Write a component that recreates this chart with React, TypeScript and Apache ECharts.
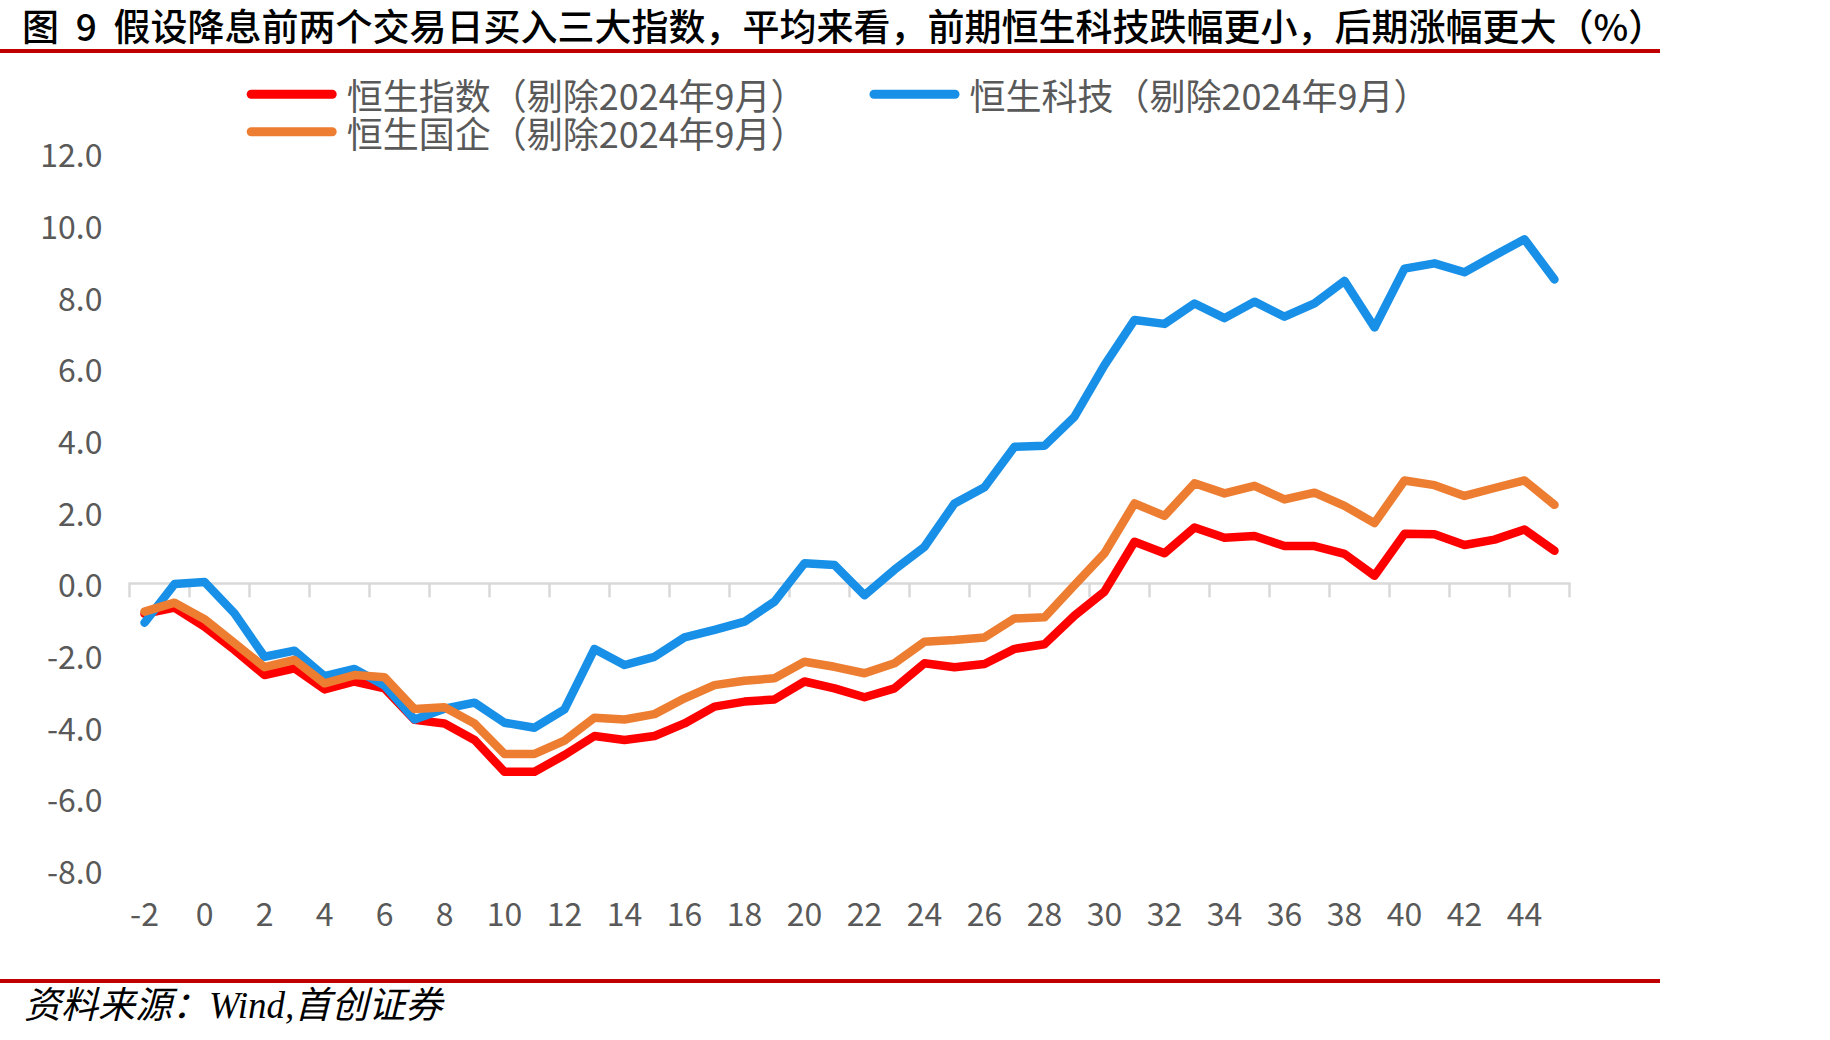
import React, { useEffect, useRef } from "react";
import * as echarts from "echarts";

// Trading days relative to the rate cut (day 0)
const days = [
  -2, -1, 0, 1, 2, 3, 4, 5, 6, 7, 8, 9, 10, 11, 12, 13, 14, 15, 16, 17, 18, 19, 20, 21,
  22, 23, 24, 25, 26, 27, 28, 29, 30, 31, 32, 33, 34, 35, 36, 37, 38, 39, 40, 41, 42, 43, 44, 45,
];

// Average cumulative return (%), Sep 2024 excluded
const hsi = [
  -0.85, -0.68, -1.21, -1.86, -2.56, -2.37, -2.96, -2.74, -2.93, -3.81, -3.91, -4.37,
  -5.26, -5.26, -4.79, -4.26, -4.37, -4.26, -3.91, -3.44, -3.30, -3.24, -2.74, -2.93,
  -3.18, -2.93, -2.23, -2.34, -2.25, -1.83, -1.70, -0.90, -0.23, 1.16, 0.84, 1.56,
  1.27, 1.32, 1.04, 1.04, 0.82, 0.21, 1.38, 1.37, 1.07, 1.22, 1.50, 0.91,
];
const hstech = [
  -1.10, -0.02, 0.04, -0.84, -2.05, -1.88, -2.59, -2.39, -2.85, -3.80, -3.50, -3.33,
  -3.89, -4.03, -3.52, -1.83, -2.28, -2.05, -1.51, -1.30, -1.07, -0.51, 0.56, 0.51,
  -0.33, 0.38, 1.02, 2.23, 2.68, 3.81, 3.84, 4.65, 6.09, 7.35, 7.24, 7.81,
  7.40, 7.86, 7.44, 7.81, 8.44, 7.14, 8.78, 8.93, 8.68, 9.15, 9.60, 8.48,
];
const hscei = [
  -0.79, -0.54, -1.00, -1.67, -2.34, -2.14, -2.79, -2.56, -2.62, -3.51, -3.46, -3.91,
  -4.76, -4.76, -4.39, -3.75, -3.80, -3.65, -3.21, -2.84, -2.72, -2.65, -2.19, -2.33,
  -2.51, -2.23, -1.63, -1.58, -1.51, -0.98, -0.95, -0.05, 0.84, 2.23, 1.88, 2.79,
  2.51, 2.72, 2.34, 2.53, 2.16, 1.68, 2.87, 2.74, 2.44, 2.66, 2.87, 2.19,
];

const yTicks = { min: -8, max: 12, step: 2 };

const names = [
  "恒生指数（剔除2024年9月）",
  "恒生科技（剔除2024年9月）",
  "恒生国企（剔除2024年9月）",
];
const colors = ["#FF0000", "#1890E8", "#ED7D31"];

// non-breaking spaces keep the gaps around the figure number in SVG text
const titleText =
  "图\u00A0\u00A09\u00A0\u00A0假设降息前两个交易日买入三大指数，平均来看，前期恒生科技跌幅更小，后期涨幅更大（%）";
const sourceText = "资料来源：Wind,首创证券";

const FONT = "'Noto Sans CJK SC', 'Noto Sans', sans-serif";
const capsule = "path://M4.5,0 H85.5 A4.5,4.5 0 0 1 85.5,9 H4.5 A4.5,4.5 0 0 1 4.5,0 Z";

function legendAt(name: string, left: number, top: number) {
  return {
    data: [name],
    left,
    top,
    padding: 0,
    icon: capsule,
    itemWidth: 90,
    itemHeight: 9,
    selectedMode: false,
    textStyle: {
      fontFamily: FONT,
      fontSize: 36,
      lineHeight: 34,
      color: "#595959",
      padding: [0, 0, 4, 5],
    },
  };
}

export default function App() {
  const ref = useRef<HTMLDivElement>(null);

  useEffect(() => {
    if (!ref.current) return;
    const chart = echarts.init(ref.current, undefined, { renderer: "svg" });

    const series = [hsi, hstech, hscei].map((values, k) => ({
      name: names[k],
      type: "line",
      data: values,
      symbol: "none",
      smooth: false,
      color: colors[k],
      lineStyle: { width: 8.5, color: colors[k], cap: "round", join: "round" },
      z: 2 + k,
    }));

    chart.setOption({
      animation: false,
      backgroundColor: "#FFFFFF",
      grid: { left: 129.5, right: 260.5, top: 153.3, bottom: 170, containLabel: false },
      legend: [
        legendAt(names[0], 246.7, 75.3),
        legendAt(names[1], 869.5, 75.3),
        legendAt(names[2], 246.7, 112.7),
      ],
      xAxis: [
        {
          type: "category",
          data: days,
          boundaryGap: true,
          position: "bottom",
          axisLine: { show: true, onZero: true, lineStyle: { color: "#D9D9D9", width: 2.5 } },
          axisTick: {
            show: true,
            interval: 1,
            length: 14,
            alignWithLabel: false,
            lineStyle: { color: "#D9D9D9", width: 2.5 },
          },
          axisLabel: { show: false },
          splitLine: { show: false },
        },
        {
          type: "category",
          data: days,
          boundaryGap: true,
          position: "bottom",
          axisLine: { show: false, onZero: false },
          axisTick: { show: false },
          axisLabel: {
            show: true,
            interval: 1,
            margin: 26,
            fontFamily: FONT,
            fontSize: 32,
            color: "#595959",
          },
          splitLine: { show: false },
        },
      ],
      yAxis: {
        type: "value",
        min: yTicks.min,
        max: yTicks.max,
        interval: yTicks.step,
        axisLine: { show: false },
        axisTick: { show: false },
        splitLine: { show: false },
        axisLabel: {
          margin: 27,
          fontFamily: FONT,
          fontSize: 32,
          color: "#595959",
          formatter: (v: number) => v.toFixed(1),
        },
      },
      series,
      graphic: [
        {
          type: "text",
          left: 22,
          top: 6,
          style: {
            text: titleText,
            font: `500 37px ${FONT}`,
            fill: "#000000",
          },
        },
        { type: "rect", shape: { x: 0, y: 49, width: 1660, height: 4 }, style: { fill: "#C00000" } },
        { type: "rect", shape: { x: 0, y: 979, width: 1660, height: 4 }, style: { fill: "#C00000" } },
        {
          type: "text",
          left: 24,
          top: 987,
          style: {
            text: sourceText,
            font: `italic 37px 'Liberation Serif', 'Noto Sans CJK SC', serif`,
            fill: "#000000",
          },
        },
      ],
    });

    return () => chart.dispose();
  }, []);

  return (
    <div
      ref={ref}
      style={{ position: "fixed", left: 0, top: 0, width: 1830, height: 1040, background: "#FFFFFF" }}
    />
  );
}
